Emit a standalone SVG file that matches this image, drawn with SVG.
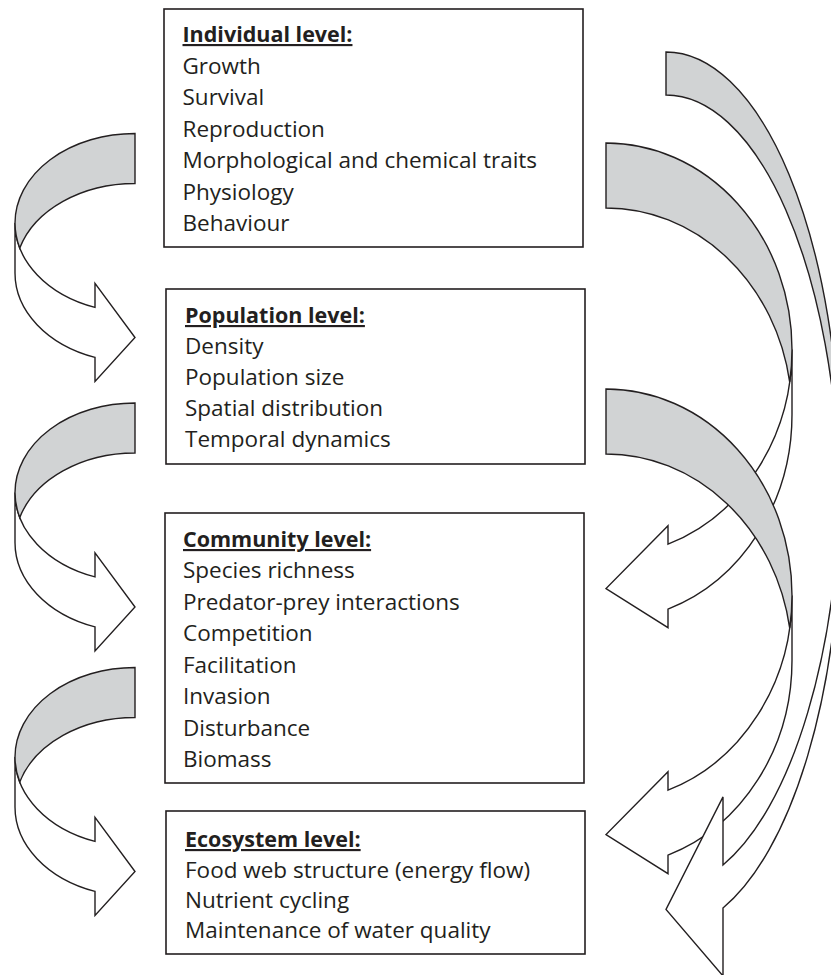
<svg xmlns="http://www.w3.org/2000/svg" xmlns:xlink="http://www.w3.org/1999/xlink" width="831" height="975" viewBox="0 0 831 975">
<style>
.box{fill:#fff;stroke:#231f20;stroke-width:1.6}
.t{font-family:"Open Sans",Lato,sans-serif;font-size:22.5px;fill:#231f20}
.h{font-weight:bold;font-size:21.5px;text-decoration:underline}
.front{fill:#fff;stroke:#231f20;stroke-width:1.4;stroke-linejoin:miter}
.back{fill:#d1d3d4;stroke:#231f20;stroke-width:1.4;stroke-linejoin:miter}
</style>
<defs>
<g id="leftArrow">
<path class="front" d="M0,89.5 A120,89.5 0 0 0 80,173.88 L80,149.88 L120,204 L80,247.88 L80,223.88 A120,89.5 0 0 1 0,139.5 Z"/>
<path class="back" d="M0,89.5 A120,89.5 0 0 1 120,0 L120,50 A120,89.5 0 0 0 4.78,114.5 A120,89.5 0 0 1 0,89.5 Z"/>
</g>
<g id="rightArrow">
<path class="front" d="M0,206.5 A186,206.5 0 0 0 124,401.19 L124,382.69 L186,445.5 L124,484.69 L124,466.19 A186,206.5 0 0 1 0,271.5 Z"/>
<path class="back" d="M0,206.5 A186,206.5 0 0 1 186,0 L186,65 A186,206.5 0 0 0 2.32,239 A186,206.5 0 0 1 0,206.5 Z"/>
</g>
</defs>
<g id="connectors">
<use xlink:href="#leftArrow" transform="translate(15,133.5)"/>
<use xlink:href="#leftArrow" transform="translate(15,403)"/>
<use xlink:href="#leftArrow" transform="translate(15,667.5)"/>
<use xlink:href="#rightArrow" transform="translate(792,143) scale(-1,1)"/>
<use xlink:href="#rightArrow" transform="translate(792,389) scale(-1,1)"/>
<g transform="translate(840,52) scale(-1,1)">
<path class="front" d="M0,418 A174,418 0 0 0 117,812.94 L117,744.94 L174,857.5 L117,923.94 L117,855.94 A174,418 0 0 1 0,461 Z"/>
<path class="back" d="M0,418 A174,418 0 0 1 174,0 L174,43 A174,418 0 0 0 0.23,439.5 A174,418 0 0 1 0,418 Z"/>
</g>
</g>
<g id="individual">
<rect class="box" x="164" y="9" width="419" height="238"/>
<text class="t h" x="182.5" y="42">Individual level:</text>
<text class="t" x="182.5" y="74">Growth</text>
<text class="t" x="182.5" y="105">Survival</text>
<text class="t" x="182.5" y="137">Reproduction</text>
<text class="t" x="182.5" y="168">Morphological and chemical traits</text>
<text class="t" x="182.5" y="200">Physiology</text>
<text class="t" x="182.5" y="231">Behaviour</text>
</g>
<g id="population">
<rect class="box" x="166" y="289" width="419" height="175"/>
<text class="t h" x="185" y="323">Population level:</text>
<text class="t" x="185" y="354">Density</text>
<text class="t" x="185" y="385">Population size</text>
<text class="t" x="185" y="416">Spatial distribution</text>
<text class="t" x="185" y="447">Temporal dynamics</text>
</g>
<g id="community">
<rect class="box" x="165" y="513" width="419" height="270"/>
<text class="t h" x="183" y="547">Community level:</text>
<text class="t" x="183" y="578">Species richness</text>
<text class="t" x="183" y="610">Predator-prey interactions</text>
<text class="t" x="183" y="641">Competition</text>
<text class="t" x="183" y="673">Facilitation</text>
<text class="t" x="183" y="704">Invasion</text>
<text class="t" x="183" y="736">Disturbance</text>
<text class="t" x="183" y="767">Biomass</text>
</g>
<g id="ecosystem">
<rect class="box" x="166" y="811" width="419" height="143"/>
<text class="t h" x="185" y="847">Ecosystem level:</text>
<text class="t" x="185" y="878">Food web structure (energy flow)</text>
<text class="t" x="185" y="908">Nutrient cycling</text>
<text class="t" x="185" y="938">Maintenance of water quality</text>
</g>
</svg>
